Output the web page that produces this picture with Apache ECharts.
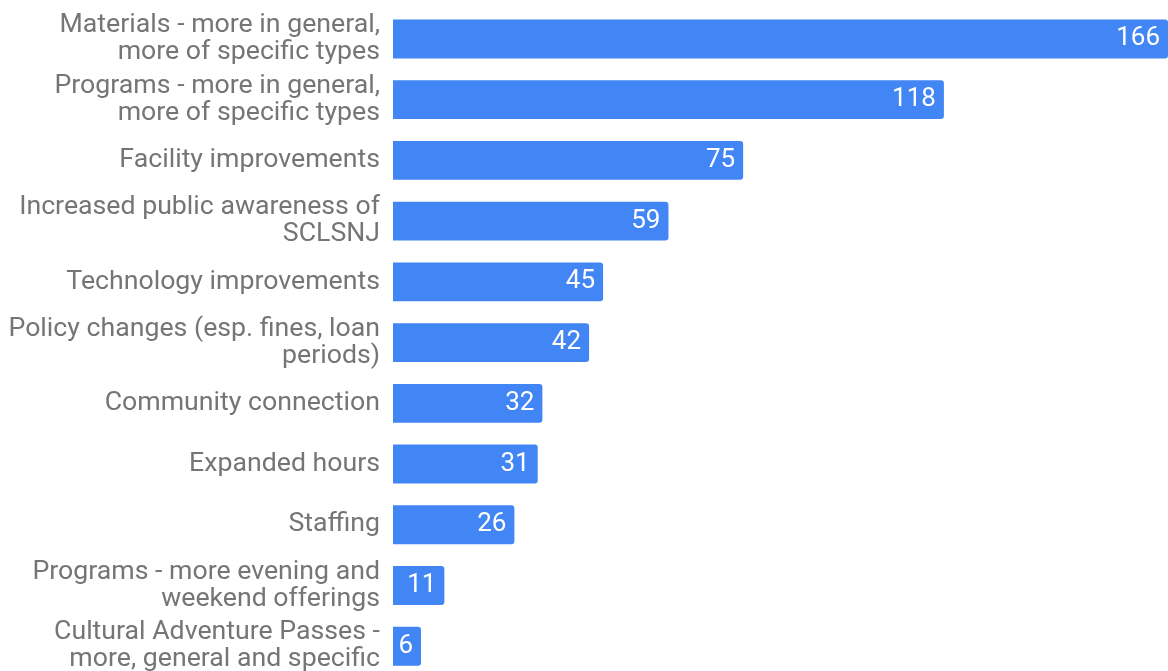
<!DOCTYPE html>
<html><head><meta charset="utf-8">
<script src="https://cdn.jsdelivr.net/npm/echarts@6/dist/echarts.min.js"></script>
<style>html,body{margin:0;padding:0;background:#fff;overflow:hidden}#c{width:1168px;height:690px}</style>
</head><body><div id="c"></div>
<script>
const categories = [
  "Materials - more in general,\nmore of specific types",
  "Programs - more in general,\nmore of specific types",
  "Facility improvements",
  "Increased public awareness of\nSCLSNJ",
  "Technology improvements",
  "Policy changes (esp. fines, loan\nperiods)",
  "Community connection",
  "Expanded hours",
  "Staffing",
  "Programs - more evening and\nweekend offerings",
  "Cultural Adventure Passes -\nmore, general and specific"
];
const values = [166, 118, 75, 59, 45, 42, 32, 31, 26, 11, 6];

const chart = echarts.init(document.getElementById('c'));
chart.setOption({
  animation: false,
  grid: { left: 393, right: 0, top: 8.6, height: 668, containLabel: false },
  xAxis: { type: 'value', min: 0, max: 166, show: false },
  yAxis: {
    type: 'category', inverse: true, data: categories,
    axisLine: { show: false }, axisTick: { show: false },
    axisLabel: { color: '#757575', fontFamily: 'Roboto', fontSize: 26.7, lineHeight: 27, margin: 13, align: 'right' }
  },
  series: [{
    type: 'bar', data: values, barCategoryGap: '36%',
    itemStyle: { color: '#4285F4', borderRadius: [0, 3, 3, 0] },
    label: { show: true, position: 'insideRight', distance: 8, color: '#fff', fontFamily: 'Roboto', fontSize: 26 }
  }]
});
</script></body></html>
